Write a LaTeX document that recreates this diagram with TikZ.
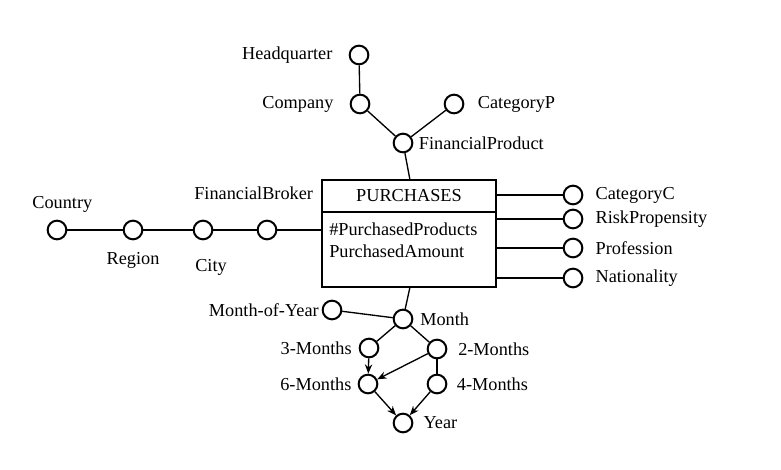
\documentclass[tikz,border=0pt]{standalone}
\usepackage{fontspec}
\setmainfont{Liberation Serif}
\usetikzlibrary{arrows.meta,positioning}

\begin{document}
\begin{tikzpicture}[
  x=0.75pt, y=-0.75pt,
  every node/.style={font=\fontsize{13.7}{16.5}\selectfont},
  lvl/.style={circle, draw=black, line width=1.5pt, minimum size=14pt,
    inner sep=0pt},
  every label/.style={font=\fontsize{13.7}{16.5}\selectfont, inner sep=1pt},
  link/.style={black, line width=1pt},
  roll/.style={-{Stealth[length=7pt,width=5.5pt]}, black, line width=1pt}
]
\useasboundingbox (0,0) rectangle (781,470);

% The fact box.
\node[draw, line width=1.1pt, minimum width=130.5pt, minimum height=80.25pt,
  inner sep=0pt] (pur) at (409,233.5) {};
\coordinate (div) at (409,212);
\draw[line width=1.1pt] (pur.west |- div) -- (pur.east |- div);
\node (name) at (409,196) {PURCHASES};
\node[anchor=west, align=left, inner sep=0pt] (meas) at (329,240)
  {\#PurchasedProducts\\PurchasedAmount};
\coordinate (ptop) at (410,180);
\coordinate (pbot) at (410,287);

% Product hierarchy.
\node[lvl, label={[label distance=11pt]left:Headquarter}] (hq) at (359,55) {};
\node[lvl, label={[label distance=11pt]left:Company}] (comp) at (360,104) {};
\node[lvl, label={[label distance=9pt]right:CategoryP}] (catp) at (454,104) {};
\node[lvl, label={[label distance=3pt]right:FinancialProduct}] (fp) at (403,143) {};
\draw[link] (hq) -- (comp);
\draw[link] (comp) -- (fp);
\draw[link] (catp) -- (fp);
\draw[link] (fp) -- (ptop);

% Broker hierarchy.
\node[lvl, label={[label distance=4pt, xshift=4pt]above:Country}] (ctry) at (57,230) {};
\node[lvl, label={[label distance=8pt]below:Region}] (reg) at (133,230) {};
\node[lvl, label={[label distance=13pt, xshift=6pt]below:City}] (city) at (203,230) {};
\node[lvl, label={[label distance=14pt, xshift=-10pt]above:FinancialBroker}] (fb) at (267,230) {};
\draw[link] (ctry) -- (reg) -- (city) -- (fb) -- (pur.west |- fb);

% Customer attributes.
\node[lvl, label={[label distance=8pt]right:CategoryC}] (catc) at (573,195) {};
\node[lvl, label={[label distance=8pt]right:RiskPropensity}] (risk) at (573,219) {};
\node[lvl, label={[label distance=8pt]right:Profession}] (prof) at (573,248) {};
\node[lvl, label={[label distance=8pt]right:Nationality}] (nat) at (573,278) {};
\foreach \a in {catc,risk,prof,nat}
  \draw[link] (pur.east |- \a) -- (\a);

% Time hierarchy.
\node[lvl, label={[label distance=4pt]right:Month}] (mon) at (403,319) {};
\node[lvl, label={[label distance=1pt]left:Month-of-Year}] (moy) at (332,310) {};
\node[lvl, label={[label distance=4pt]left:3-Months}] (m3) at (369,348) {};
\node[lvl, label={[label distance=7pt]right:2-Months}] (m2) at (437,349) {};
\node[lvl, label={[label distance=3.5pt]left:6-Months}] (m6) at (368,384) {};
\node[lvl, label={[label distance=6pt]right:4-Months}] (m4) at (437,384) {};
\node[lvl, label={[label distance=6.5pt]right:Year}] (yr) at (403,423) {};
\draw[link] (pbot) -- (mon);
\draw[link] (moy) -- (mon);
\draw[link] (mon) -- (m3);
\draw[link] (mon) -- (m2);
\draw[link] (m2) -- (m4);
\draw[roll] (m3) -- (m6);
\draw[roll] (m2) -- (m6);
\draw[roll] (m6) -- (yr);
\draw[roll] (m4) -- (yr);
\end{tikzpicture}
\end{document}
